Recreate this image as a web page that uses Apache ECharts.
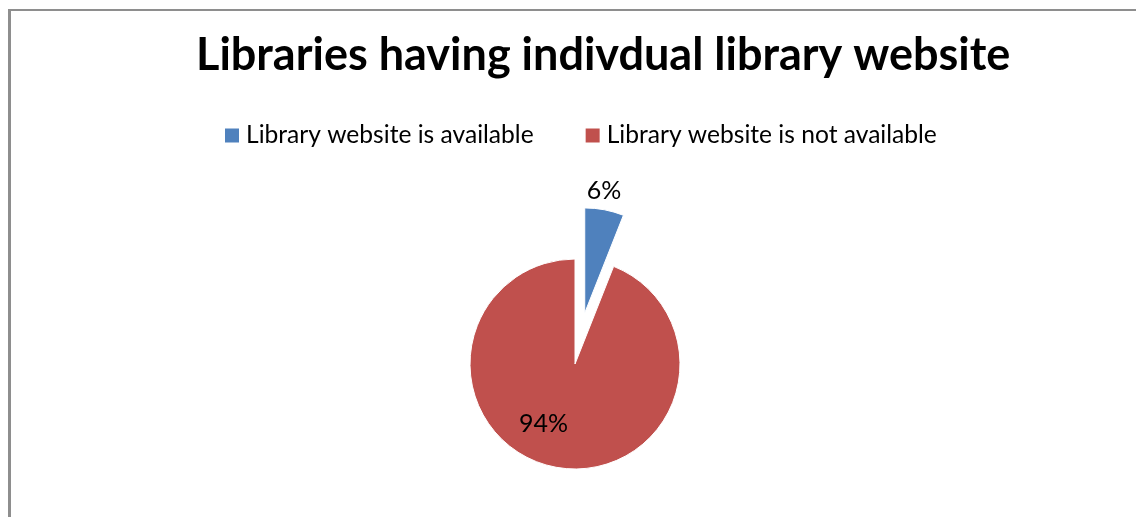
<!DOCTYPE html>
<html><head><meta charset="utf-8">
<script src="https://cdn.jsdelivr.net/npm/echarts@6/dist/echarts.min.js"></script>
<style>
html,body{margin:0;padding:0;background:#fff;}
#wrap{position:relative;width:1136px;height:517px;overflow:hidden;}
#chart{position:absolute;left:0;top:0;width:1136px;height:517px;}
#frame{position:absolute;left:8px;top:9px;width:1200px;height:600px;border-left:3px solid #8e8e8e;border-top:2px solid #8e8e8e;pointer-events:none;}
</style></head>
<body><div id="wrap"><div id="chart"></div><div id="frame"></div></div>
<script>
const titleText = 'Libraries having indivdual library website';
const categories = ['Library website is available', 'Library website is not available'];
const values = [6, 94];
const colors = ['#4F81BD', '#C0504D'];
const labelOffsets = [[9, -67], [-21, 5]];

const chart = echarts.init(document.getElementById('chart'));
chart.setOption({
  backgroundColor: 'transparent',
  animation: false,
  title: {
    text: titleText, left: 191, top: 28,
    textStyle: {fontFamily: 'Lato', fontWeight: 'bold', fontSize: 45, color: '#000'}
  },
  legend: {
    data: categories, top: 118, left: 220, itemGap: 52,
    itemWidth: 14, itemHeight: 14, icon: 'rect',
    itemStyle: {borderWidth: 0},
    textStyle: {fontFamily: 'Lato', fontSize: 24.6, color: '#000', padding: [0, 0, 0, 2]}
  },
  series: [{
    type: 'pie', center: [575, 364], radius: 105,
    startAngle: 90, clockwise: true,
    selectedMode: 'multiple', selectedOffset: 52,
    itemStyle: {borderColor: '#fff', borderWidth: 1},
    labelLine: {show: false},
    emphasis: {disabled: true},
    data: categories.map((c, i) => ({
      name: c, value: values[i], selected: i === 0,
      itemStyle: {color: colors[i]},
      label: {
        show: true, position: 'inside', formatter: '{d}%',
        fontFamily: 'Lato', fontSize: 25, color: '#000',
        offset: labelOffsets[i]
      },
      select: {label: {offset: labelOffsets[i]}}
    }))
  }]
});
</script></body></html>
